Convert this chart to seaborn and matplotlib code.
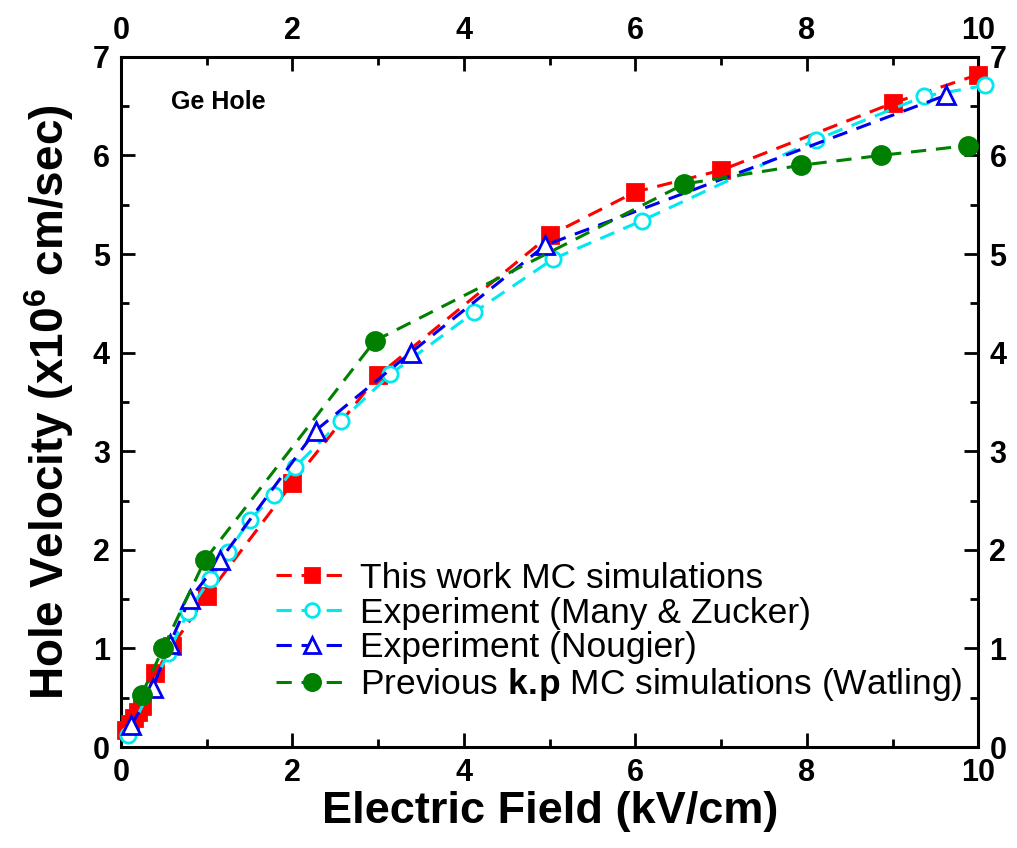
import matplotlib
matplotlib.use('Agg')
import matplotlib.pyplot as plt
from matplotlib.ticker import MultipleLocator
import seaborn as sns

# ── Data ────────────────────────────────────────
red_x = [0.06, 0.10, 0.15, 0.20, 0.25, 0.40, 0.60, 1.0, 2.0, 3.0, 5.0, 6.0, 7.0, 9.0, 10.0]
red_y = [0.17, 0.23, 0.30, 0.36, 0.42, 0.75, 1.03, 1.53, 2.68, 3.77, 5.19, 5.63, 5.85, 6.53, 6.82]

cyan_x = [0.08, 0.55, 0.78, 1.04, 1.25, 1.50, 1.78, 2.03, 2.57, 3.14, 4.12, 5.04, 6.08, 8.11, 9.37, 10.08]
cyan_y = [0.12, 0.95, 1.37, 1.70, 1.98, 2.30, 2.56, 2.84, 3.31, 3.78, 4.41, 4.95, 5.34, 6.16, 6.60, 6.71]

blue_x = [0.12, 0.37, 0.57, 0.80, 1.16, 2.27, 3.38, 4.95, 9.62]
blue_y = [0.22, 0.60, 1.05, 1.50, 1.90, 3.21, 4.00, 5.09, 6.61]

green_x = [0.24, 0.49, 0.98, 2.96, 6.57, 7.93, 8.86, 9.88]
green_y = [0.53, 1.00, 1.90, 4.12, 5.71, 5.90, 6.00, 6.10]

LABELS = ['This work MC simulations',
          'Experiment (Many & Zucker)',
          'Experiment (Nougier)',
          r'Previous $\mathbf{k.\!p}$ MC simulations (Watling)']

# ── Style ───────────────────────────────────────
sns.set_style('ticks')
plt.rcParams['font.family'] = ['Liberation Sans', 'DejaVu Sans']
plt.rcParams['mathtext.fontset'] = 'custom'
plt.rcParams['mathtext.rm'] = 'Liberation Sans'
plt.rcParams['mathtext.bf'] = 'Liberation Sans:bold'
plt.rcParams.update({
    'text.color': 'black',
    'axes.labelcolor': 'black',
    'xtick.color': 'black',
    'ytick.color': 'black',
    'axes.edgecolor': 'black',
})

fig = plt.figure(figsize=(10.17, 8.48), dpi=100)
ax = fig.add_axes([0.119, 0.119, 0.843, 0.814])

dash = (0, (5, 3.2))
series = [
    (red_x, red_y, '#FF0000', 's', '#FF0000', 11),
    (cyan_x, cyan_y, '#00E8F0', 'o', 'white', 11),
    (blue_x, blue_y, '#0000EE', '^', 'white', 13),
    (green_x, green_y, '#008000', 'o', '#008000', 13),
]
for (xs, ys, col, mk, mfc, ms), lab in zip(series, LABELS):
    sns.lineplot(x=xs, y=ys, ax=ax, color=col, marker=mk, markersize=ms,
                 markerfacecolor=mfc, markeredgecolor=col, markeredgewidth=2,
                 linewidth=2.2, linestyle=dash, sort=False, estimator=None,
                 label=lab, clip_on=False, zorder=3)

ax.set_xlim(0, 10)
ax.set_ylim(0, 7)
ax.xaxis.set_major_locator(MultipleLocator(2))
ax.xaxis.set_minor_locator(MultipleLocator(1))
ax.yaxis.set_major_locator(MultipleLocator(1))
ax.yaxis.set_minor_locator(MultipleLocator(0.5))
ax.tick_params(which='both', direction='in', top=True, right=True,
               labeltop=True, labelright=True, width=2, color='black')
ax.tick_params(which='major', length=10, labelsize=22)
ax.tick_params(axis='x', which='major', pad=8)
ax.tick_params(axis='y', which='major', pad=8)
ax.tick_params(which='minor', length=6)
for sp in ax.spines.values():
    sp.set_linewidth(2.2)
    sp.set_visible(True)

ax.set_xlabel('Electric Field (kV/cm)', fontsize=32.5, fontweight='bold', labelpad=2)
ax.set_ylabel(r'Hole Velocity (x10$^{\mathbf{6}}$ cm/sec)', fontsize=33,
              fontweight='bold', labelpad=12)
ax.text(0.058, 0.935, 'Ge Hole', transform=ax.transAxes, fontsize=18,
        fontweight='bold', ha='left', va='center')

leg = ax.legend(loc='lower right', bbox_to_anchor=(1.006, 0.033), frameon=False,
                fontsize=25.5, handlelength=2.0, handletextpad=0.35,
                labelspacing=0.05, borderaxespad=0.2, markerscale=0.9)

# bold tick labels on all four sides
fig.canvas.draw()
for tk in ax.xaxis.get_major_ticks() + ax.yaxis.get_major_ticks():
    tk.label1.set_fontweight('bold')
    tk.label2.set_fontweight('bold')

fig.savefig('out.png', dpi=100)
